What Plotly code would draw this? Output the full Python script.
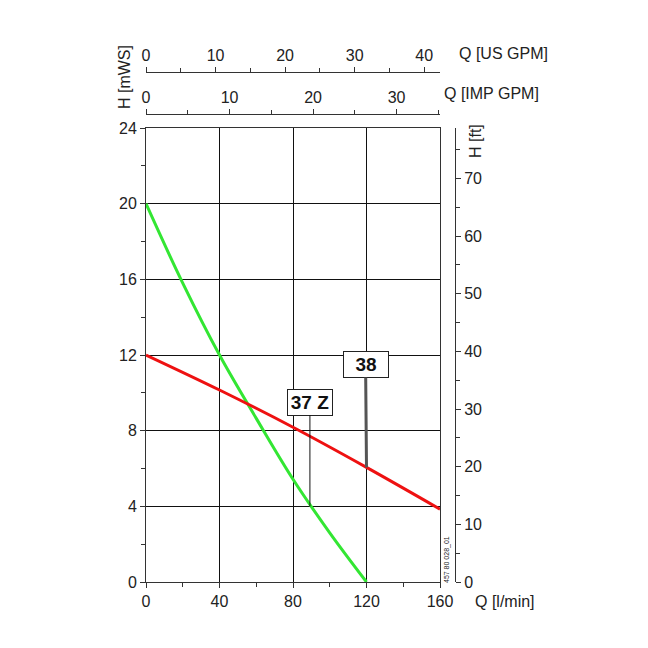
import plotly.graph_objects as go

# pump curves (Q in l/min, H in m)
q_37z = [0, 20, 40, 60, 80, 100, 120]
h_37z = [20, 15.8, 12, 8.65, 5.43, 2.6, 0]
q_38 = [0, 40, 80, 120, 160]
h_38 = [12, 10.15, 8.18, 6.06, 3.85]

labels = ["37 Z", "38"]
label_q = [89.2, 120]        # where the pointer touches the curve
label_h = [4.0, 6.06]
box_q = [89.2, 119.5]
box_h = [9.5, 11.5]

Q_MAX = 160
H_MAX = 24
US_GAL = 3.785411784
IMP_GAL = 4.54609
M_TO_FT = 3.28084

W = H = 648
OFF = 8
ML, MR, MT, MB = 146 - OFF, 136, 40 - OFF, 74
PW = W - ML - MR
PH = H - MT - MB


def px(x):
    return (x - OFF - ML) / PW


def py(y):
    return (H - MB - (y - OFF)) / PH


x_dom = [0, 294 / PW]
y_dom = [0, 454 / PH]

font = dict(family="Liberation Sans, Arial, sans-serif", size=16, color="#222")
dark = "#333"

fig = go.Figure()
fig.add_trace(go.Scatter(x=q_37z, y=h_37z, mode="lines", line=dict(color="#33e633", width=3, shape="spline"),
                         hoverinfo="skip"))
fig.add_trace(go.Scatter(x=q_38, y=h_38, mode="lines", line=dict(color="#ee1111", width=3, shape="spline"),
                         hoverinfo="skip"))
# dummy traces so the secondary axes get drawn
fig.add_trace(go.Scatter(x=[None], y=[None], xaxis="x2", yaxis="y", hoverinfo="skip"))
fig.add_trace(go.Scatter(x=[None], y=[None], xaxis="x3", yaxis="y", hoverinfo="skip"))
fig.add_trace(go.Scatter(x=[None], y=[None], xaxis="x", yaxis="y2", hoverinfo="skip"))

annotations = []
for i, name in enumerate(labels):
    annotations.append(dict(
        x=label_q[i], y=label_h[i], ax=box_q[i], ay=box_h[i], axref="x", ayref="y", xref="x", yref="y",
        text="<b>%s</b>" % name, showarrow=True, arrowhead=0, standoff=0, startstandoff=0,
        arrowwidth=1 if i == 0 else 3, arrowcolor="#111" if i == 0 else "#555",
        font=dict(family="Liberation Sans, Arial, sans-serif", size=19, color="#111"),
        width=38, height=19,
        bgcolor="white", bordercolor="#222", borderwidth=1, borderpad=3))


def note(text, x, y, xanchor="left", angle=0, size=16):
    annotations.append(dict(text=text, x=px(x), y=py(y), xref="paper", yref="paper", showarrow=False,
                            xanchor=xanchor, yanchor="middle", textangle=angle,
                            font=dict(family="Liberation Sans, Arial, sans-serif", size=size, color="#222")))


note("Q [US GPM]", 457, 53)
note("Q [IMP GPM]", 442, 93)
note("Q [l/min]", 473, 601)
note("H [mWS]", 125, 77, xanchor="center", angle=-90)
note("H [ft]", 475, 141, xanchor="center", angle=-90)
note("457 80 028_01", 447, 560, xanchor="center", angle=-90, size=7)

tick_common = dict(ticks="outside", ticklen=5, tickcolor=dark, tickfont=font, showline=True,
                   linecolor=dark, zeroline=False)

fig.update_layout(
    width=W, height=H,
    margin=dict(l=ML, r=MR, t=MT, b=MB),
    paper_bgcolor="white", plot_bgcolor="white",
    showlegend=False,
    annotations=annotations,
    xaxis=dict(range=[0, Q_MAX], domain=x_dom, dtick=40, showgrid=True, gridcolor="#111", gridwidth=1,
               mirror=True, minor=dict(dtick=20, ticks="outside", ticklen=4, tickcolor=dark, showgrid=False),
               **tick_common),
    xaxis2=dict(range=[0, Q_MAX / US_GAL], domain=x_dom, overlaying="x", anchor="free", side="top",
                position=py(72), dtick=10, showgrid=False,
                minor=dict(dtick=5, ticks="outside", ticklen=4, tickcolor=dark), **tick_common),
    xaxis3=dict(range=[0, Q_MAX / IMP_GAL], domain=x_dom, overlaying="x", anchor="free", side="top",
                position=py(114), dtick=10, showgrid=False,
                minor=dict(dtick=5, ticks="outside", ticklen=4, tickcolor=dark), **tick_common),
    yaxis=dict(range=[0, H_MAX], domain=y_dom, dtick=4, showgrid=True, gridcolor="#111", gridwidth=1,
               mirror=True, minor=dict(dtick=2, ticks="outside", ticklen=4, tickcolor=dark, showgrid=False),
               **tick_common),
    yaxis2=dict(range=[0, H_MAX * M_TO_FT], domain=y_dom, overlaying="y", anchor="free", side="right",
                position=px(455), dtick=10, showgrid=False,
                minor=dict(dtick=5, ticks="outside", ticklen=4, tickcolor=dark), **tick_common),
)

fig.write_html("out.html")
